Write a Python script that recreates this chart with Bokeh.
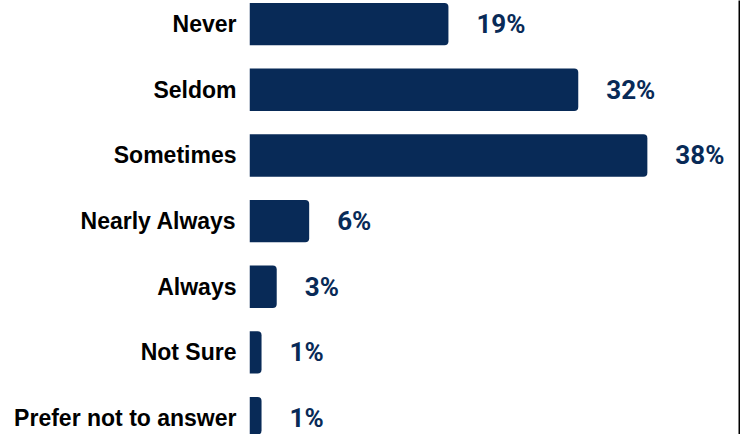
from bokeh.plotting import figure
from bokeh.models import ColumnDataSource, Range1d, FixedTicker, LinearAxis
from bokeh.core.properties import value
from bokeh.embed import file_html
from bokeh.resources import INLINE

categories = ["Never", "Seldom", "Sometimes", "Nearly Always", "Always", "Not Sure", "Prefer not to answer"]
shares = [19.0, 31.4, 38.0, 5.7, 2.6, 1.15, 1.15]
share_labels = ["19%", "32%", "38%", "6%", "3%", "1%", "1%"]

NAVY = "#082a57"
n = len(categories)
ypos = [n - 1 - i for i in range(n)]

src = ColumnDataSource(dict(y=ypos, v=shares, lab=share_labels, cat=categories))

p = figure(width=740, height=434, output_backend="svg", toolbar_location=None,
           x_range=Range1d(0, 46.8), y_range=Range1d(-0.25, 6.36),
           min_border_left=249, min_border_right=1, min_border_top=0, min_border_bottom=0)
p.background_fill_color = "white"
p.border_fill_color = "white"
p.outline_line_color = None
p.grid.visible = False
p.xaxis.visible = False

yax = p.yaxis[0]
yax.ticker = FixedTicker(ticks=ypos)
yax.major_label_overrides = {y: c for y, c in zip(ypos, categories)}
yax.axis_line_color = None
yax.major_tick_line_color = None
yax.minor_tick_line_color = None
yax.major_tick_out = 0
yax.major_tick_in = 0
yax.major_label_standoff = 13
yax.major_label_text_font = "Liberation Sans"
yax.major_label_text_font_style = "bold"
yax.major_label_text_font_size = "23px"
yax.major_label_text_color = "black"

rax = LinearAxis(ticker=FixedTicker(ticks=[]), axis_line_color="black", axis_line_width=2,
                 major_tick_line_color=None, minor_tick_line_color=None,
                 major_tick_out=0, major_tick_in=0, minor_tick_out=0, minor_tick_in=0,
                 major_label_standoff=0, major_label_text_font_size="0px",
                 axis_label_standoff=0, axis_label_text_font_size="0px")
p.add_layout(rax, "right")

p.hbar(y="y", left=0, right="v", height=0.645, source=src, fill_color=NAVY,
       line_color=None, border_radius=(0, 4, 4, 0))

p.text(x="v", y="y", text="lab", source=src, x_offset=28, text_align="left",
       text_baseline="middle", text_font=value("Roboto"), text_font_style="bold",
       text_font_size="26px", text_color=NAVY)

open("out.html", "w").write(file_html(p, INLINE))
